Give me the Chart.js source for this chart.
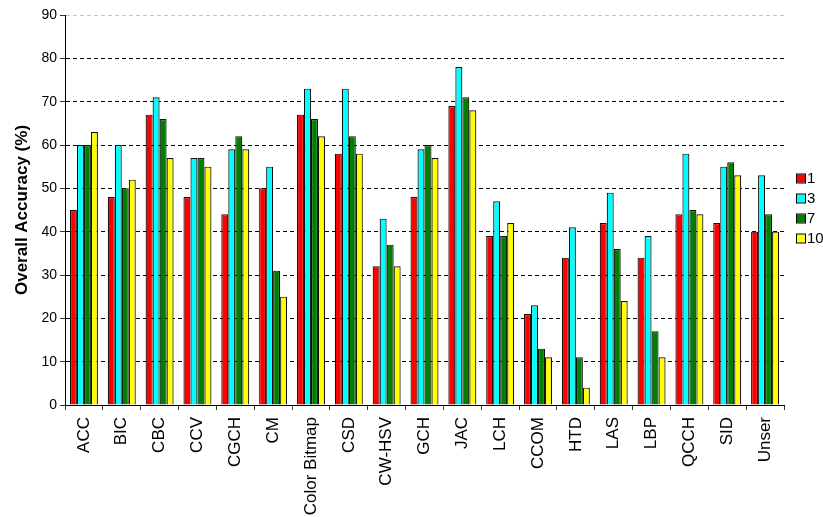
<!DOCTYPE html>
<html>
<head>
<meta charset="utf-8">
<script src="https://cdn.jsdelivr.net/npm/chart.js@4.4.1/dist/chart.umd.min.js"></script>
<style>
  html, body { margin: 0; padding: 0; background: #fff; }
  #wrap { width: 823px; height: 517px; position: relative; }
</style>
</head>
<body>
<div id="wrap"><canvas id="c" width="823" height="517"></canvas></div>
<script>
// Descriptors compared
const categories = ['ACC', 'BIC', 'CBC', 'CCV', 'CGCH', 'CM', 'Color Bitmap', 'CSD', 'CW-HSV', 'GCH',
                    'JAC', 'LCH', 'CCOM', 'HTD', 'LAS', 'LBP', 'QCCH', 'SID', 'Unser'];

// Overall accuracy (%) per setting
const seriesNames = ['1', '3', '7', '10'];
const acc1  = [45, 48, 67, 48, 44, 50, 67, 58, 32, 48, 69, 39, 21, 34, 42, 34, 44, 42, 40];
const acc3  = [60, 60, 71, 57, 59, 55, 73, 73, 43, 59, 78, 47, 23, 41, 49, 39, 58, 55, 53];
const acc7  = [60, 50, 66, 57, 62, 31, 66, 62, 37, 60, 71, 39, 13, 11, 36, 17, 45, 56, 44];
const acc10 = [63, 52, 57, 55, 59, 25, 62, 58, 32, 57, 68, 42, 11,  4, 24, 11, 44, 53, 40];

const yTicks = [0, 10, 20, 30, 40, 50, 60, 70, 80, 90];

const colors = ['#ff0000', '#00ffff', '#008000', '#ffff00'];
const values = [acc1, acc3, acc7, acc10];

const FONT = "'Liberation Sans', Arial, Helvetica, sans-serif";

// Legend drawn at the right edge, outside the plot area
const sideLegend = {
  id: 'sideLegend',
  afterDraw(chart) {
    const ctx = chart.ctx;
    ctx.save();
    ctx.font = '15px ' + FONT;
    ctx.textBaseline = 'middle';
    chart.data.datasets.forEach((ds, i) => {
      const y = 179 + i * 20;
      ctx.fillStyle = ds.backgroundColor;
      ctx.fillRect(797, y - 4.5, 8, 8);
      ctx.strokeStyle = '#000';
      ctx.lineWidth = 1;
      ctx.strokeRect(796.5, y - 5, 9, 9);
      ctx.fillStyle = '#000';
      ctx.textAlign = 'left';
      ctx.fillText(ds.label, 807, y);
    });
    ctx.restore();
  }
};

new Chart(document.getElementById('c'), {
  type: 'bar',
  data: {
    labels: categories,
    datasets: seriesNames.map((name, i) => ({
      label: name,
      data: values[i],
      backgroundColor: colors[i],
      borderColor: '#111',
      borderWidth: 1.2,
      borderSkipped: 'bottom',
      categoryPercentage: 0.74,
      barPercentage: 1.0
    }))
  },
  options: {
    responsive: false,
    animation: false,
    devicePixelRatio: 1,
    layout: { padding: { left: 0, right: 39, top: 15, bottom: 0 } },
    plugins: {
      legend: { display: false },
      tooltip: { enabled: false }
    },
    scales: {
      x: {
        afterFit(scale) { scale.height = 112; },
        border: { display: true, color: '#000', width: 1 },
        grid: {
          offset: true,
          drawOnChartArea: false,
          drawTicks: true,
          tickLength: 5,
          tickColor: '#333'
        },
        ticks: {
          minRotation: 90,
          maxRotation: 90,
          autoSkip: false,
          padding: 7,
          color: '#000',
          font: { family: FONT, size: 17 }
        }
      },
      y: {
        min: 0,
        max: 90,
        afterFit(scale) { scale.width = 65; },
        afterBuildTicks(scale) { scale.ticks = yTicks.map(v => ({ value: v })); },
        border: { display: true, color: '#000', width: 1, dash: [4, 3] },
        grid: {
          color: ctx => (ctx.tick && ctx.tick.value === 90) ? '#c4c4c4' : '#000',
          lineWidth: 1,
          tickLength: 5,
          tickColor: '#333',
          tickBorderDash: []
        },
        ticks: {
          padding: 3,
          color: '#000',
          font: { family: FONT, size: 14 }
        },
        title: {
          display: true,
          text: 'Overall Accuracy (%)',
          color: '#000',
          padding: { top: 12, bottom: 0 },
          font: { family: FONT, size: 17, weight: 'bold' }
        }
      }
    }
  },
  plugins: [sideLegend]
});
</script>
</body>
</html>
